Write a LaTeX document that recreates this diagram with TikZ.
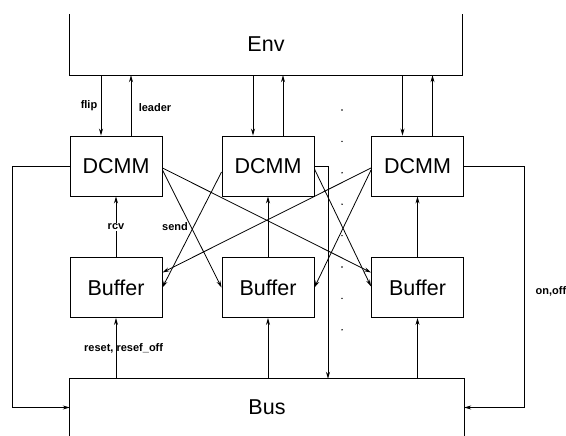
\documentclass[tikz,border=0pt]{standalone}
\usepackage{fontspec}
\setmainfont{Liberation Sans}
\usetikzlibrary{arrows.meta,calc}
\begin{document}
\begin{tikzpicture}[x=1pt,y=-1pt,
  big/.style={font=\fontsize{21.5}{24}\selectfont},
  box/.style={draw, line width=0.9pt, minimum width=92pt, minimum height=60pt, inner sep=0pt, big},
  arr/.style={line width=0.8pt, -{Stealth[length=7pt,width=4pt]}},
  ln/.style={line width=0.9pt},
  lbl/.style={font=\fontsize{11}{13}\selectfont\bfseries, inner sep=1pt}]
\useasboundingbox (0,0) rectangle (566,436);
% Env and Bus
\node[inner sep=0pt, minimum width=392pt, minimum height=61pt, big] (env) at (266,44.5) {Env};
\draw[ln] (env.north west) -- (env.south west) -- (env.south east) -- (env.north east);
\node[inner sep=0pt, minimum width=394pt, minimum height=57pt, big] (bus) at (267,407.5) {Bus};
\draw[ln] (bus.south west) -- (bus.north west) -- (bus.north east) -- (bus.south east);
% DCMM and Buffer boxes
\node[box] (d1) at (116,166) {DCMM};
\node[box] (d2) at (268,166) {DCMM};
\node[box] (d3) at (417.5,166) {DCMM};
\node[box] (b1) at (116,287.5) {Buffer};
\node[box] (b2) at (268,287.5) {Buffer};
\node[box] (b3) at (417.5,287.5) {Buffer};
% Env <-> DCMM
\foreach \n in {d1,d2,d3}{
  \coordinate (\n a) at ([xshift=-15pt]\n.north);
  \coordinate (\n b) at ([xshift=15pt]\n.north);
  \draw[arr] (env.south -| \n a) -- (\n a);
  \draw[arr] (\n b) -- (env.south -| \n b);
}
% Buffer -> DCMM
\draw[arr] (b1.north) -- node[lbl, fill=white] (rcv) {rcv} (d1.south);
\draw[arr] (b2.north) -- (d2.south);
\draw[arr] (b3.north) -- (d3.south);
% Bus -> Buffer
\draw[arr] (bus.north -| b1.south) -- (b1.south);
\draw[arr] (bus.north -| b2.south) -- (b2.south);
\draw[arr] (bus.north -| b3.south) -- (b3.south);
% side loops
\coordinate (lx) at (12,0);
\coordinate (rx) at (524,0);
\coordinate (mx) at (328,0);
\draw[arr] (d1.west) -- (d1.west -| lx) |- (bus.west);
\draw[arr] (d3.east) -- (d3.east -| rx) |- (bus.east);
\draw[arr] (d2.east) -- (d2.east -| mx) -- (bus.north -| mx);
% crossing send lines
\draw[arr] ([yshift=-2pt]d1.east) -- ([yshift=15pt]b3.west);
\draw[arr] ([yshift=-4pt]d1.east) -- (b2.west);
\draw[arr] ([yshift=-6pt]d2.west) -- (b1.east);
\draw[arr] ([yshift=-3pt]d2.east) -- ([yshift=1pt]b3.west);
\draw[arr] ([yshift=-2pt]d3.west) -- ([yshift=15pt]b1.east);
\draw[arr] ([yshift=-4pt]d3.west) -- (b2.east);
% dotted column
\foreach \k in {0,...,7} \fill (342,{110+31.4*\k}) circle (0.8pt);
% labels
\node[lbl] (flip) at (89,106) {flip};
\node[lbl] (leader) at (155,108) {leader};
\node[lbl] (send) at (175,227) {send};
\node[lbl, anchor=west] (reset) at (83,348) {reset, resef\_off};
\node[lbl] (onoff) at (551,291) {on,off};
\end{tikzpicture}
\end{document}
